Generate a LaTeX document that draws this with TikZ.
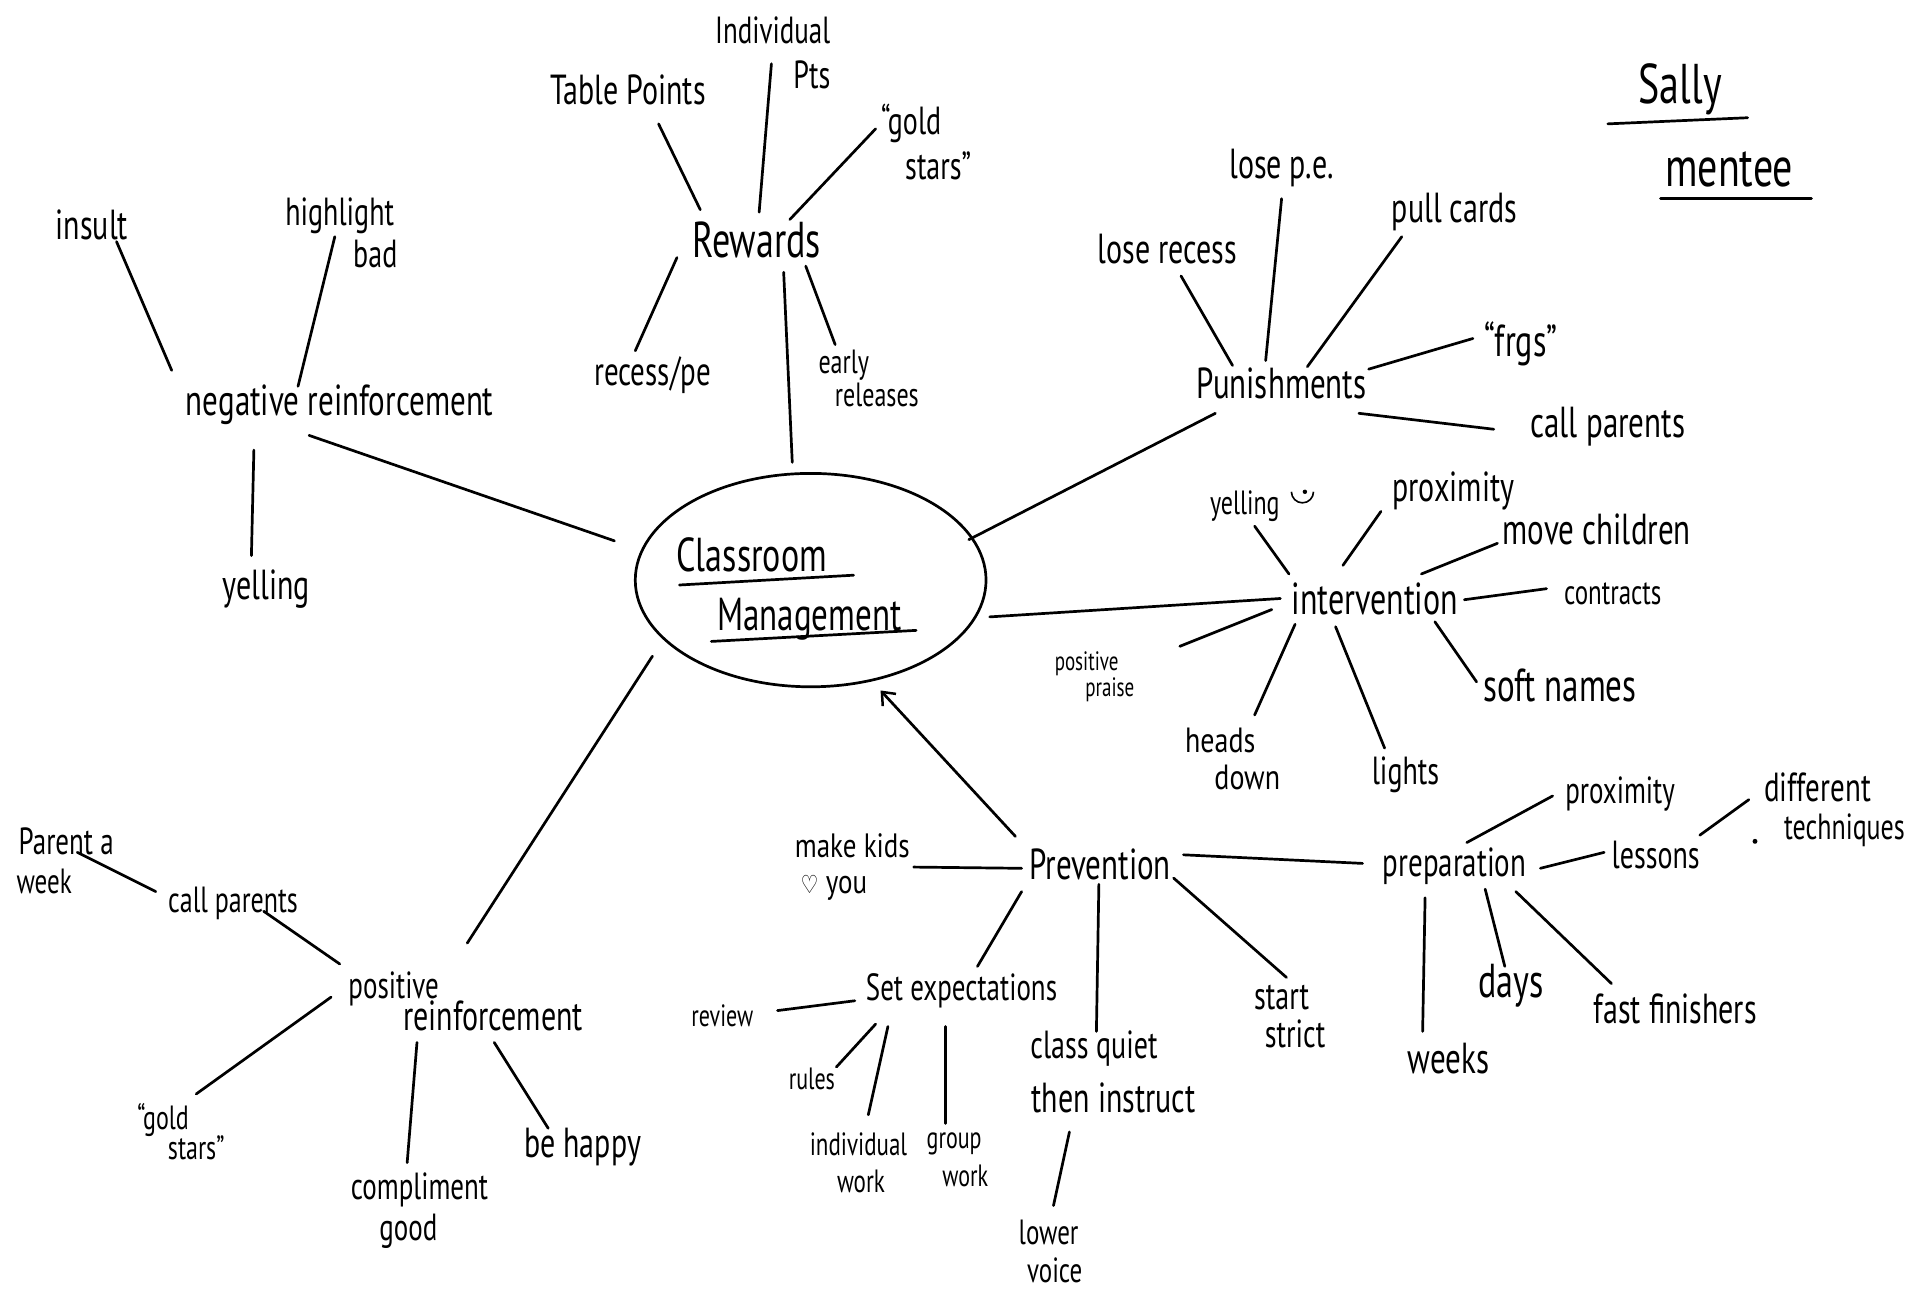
\documentclass[tikz,border=0pt]{standalone}
\usepackage{graphicx}
\usepackage{fontspec}
\setmainfont{PT Sans}
\newfontfamily\djv{DejaVu Sans}
\usetikzlibrary{calc,arrows.meta,shapes.geometric}
\newcommand\hw[2]{{\fontsize{#1}{#1}\selectfont\scalebox{1}[1.4]{#2}}}
\newcommand\hwl[2]{{\fontsize{#1}{#1}\selectfont\scalebox{1}[1.25]{#2}}}
\begin{document}
\begin{tikzpicture}[x=1.2264pt,y=-1.2264pt,
  ln/.style={line width=2.7pt,line cap=round,black},
  tx/.style={inner sep=0pt}]
\fill[white] (0,0) rectangle (1568,1052);
\useasboundingbox (0,0) rectangle (1568,1052);

% centre
\coordinate (cm) at (661,473);
\draw[ln] (cm) ellipse[x radius=143, y radius=87];
\node[tx] (cl1) at (613,452) {\hw{34}{Classroom}};
\node[tx] (cl2) at (660,505) {\hw{33}{Management}};
\draw[ln] ($(cl1)+(-59,25)$) -- ($(cl1)+(83,17)$);
\draw[ln] ($(cl2)+(-80,18)$) -- ($(cl2)+(87,9)$);

% Sally mentee
\node[tx] (sally) at (1370,73) {\hw{40}{Sally}};
\node[tx] (mentee) at (1410,138) {\hw{40}{mentee}};
\draw[ln] ($(sally)+(-59,28)$) -- ($(sally)+(55,23)$);
\draw[ln] ($(mentee)+(-56,24)$) -- ($(mentee)+(67,24)$);

% negative reinforcement
\node[tx] (insult) at (75,183) {\hw{30}{insult}};
\node[tx] (hl1) at (277,176) {\hw{28}{highlight}};
\node[tx] (hl2) at (306,207) {\hw{28}{bad}};
\node[tx] (neg) at (277,330) {\hw{31}{negative reinforcement}};
\node[tx] (yel1) at (217,480) {\hw{30}{yelling}};
\draw[ln] ($(insult)+(20,14)$) -- ($(neg)+(-137,-28)$);
\draw[ln] ($(hl1)+(-4,17)$) -- ($(neg)+(-34,-15)$);
\draw[ln] ($(neg)+(-70,37)$) -- ($(yel1)+(-12,-27)$);
\draw[ln] ($(neg)+(-25,25)$) -- ($(cm)+(-160,-32)$);

% rewards
\node[tx] (tp) at (512,73) {\hw{30}{Table Points}};
\node[tx] (ind1) at (630,25) {\hw{27}{Individual}};
\node[tx] (ind2) at (662,61) {\hw{28}{Pts}};
\node[tx] (gs1) at (743,101) {\hw{28}{“gold}};
\node[tx] (gs2) at (765,135) {\hw{28}{stars”}};
\node[tx] (rew) at (617,196) {\hw{36}{Rewards}};
\node[tx] (rec) at (532,306) {\hw{29}{recess/pe}};
\node[tx] (er1) at (688,298) {\hw{24}{early}};
\node[tx] (er2) at (715,322) {\hw{24}{releases}};
\draw[ln] ($(tp)+(25,28)$) -- ($(rew)+(-46,-25)$);
\draw[ln] ($(ind1)+(-1,27)$) -- ($(rew)+(2,-23)$);
\draw[ln] ($(gs1)+(-29,4)$) -- ($(rew)+(27,-17)$);
\draw[ln] ($(rew)+(-65,14)$) -- ($(rec)+(-14,-20)$);
\draw[ln] ($(rew)+(40,21)$) -- ($(er1)+(-7,-17)$);
\draw[ln] ($(rew)+(22,26)$) -- ($(cm)+(-15,-96)$);

% punishments
\node[tx] (lr) at (952,203) {\hw{30}{lose recess}};
\node[tx] (lpe) at (1045,137) {\hw{30}{lose p.e.}};
\node[tx] (pc) at (1186,173) {\hw{30}{pull cards}};
\node[tx] (frgs) at (1240,280) {\hw{32}{“frgs”}};
\node[tx] (pun) at (1045,313) {\hw{31}{Punishments}};
\node[tx] (cp) at (1311,348) {\hw{31}{call parents}};
\draw[ln] ($(lr)+(11,22)$) -- ($(pun)+(-40,-15)$);
\draw[ln] ($(lpe)+(0,25)$) -- ($(pun)+(-13,-19)$);
\draw[ln] ($(pc)+(-43,20)$) -- ($(pun)+(21,-14)$);
\draw[ln] ($(frgs)+(-39,-4)$) -- ($(pun)+(71,-12)$);
\draw[ln] ($(pun)+(63,24)$) -- ($(cp)+(-93,2)$);
\draw[ln] ($(pun)+(-54,24)$) -- ($(cm)+(129,-33)$);

% intervention
\node[tx] (yel2) at (1015,413) {\hw{24}{yelling}};
\draw[line width=1.6pt] ($(yel2)+(38,-12)$) arc[start angle=180,end angle=0,radius=9];
\fill ($(yel2)+(49,-12)$) circle[radius=1.8];
\node[tx] (prox) at (1185,400) {\hw{30}{proximity}};
\node[tx] (mc) at (1302,432) {\hw{31}{move children}};
\node[tx] (int) at (1121,488) {\hw{32}{intervention}};
\node[tx] (con) at (1315,484) {\hw{25}{contracts}};
\node[tx] (pp1) at (886,541) {\hw{19}{positive}};
\node[tx] (pp2) at (905,562) {\hw{19}{praise}};
\node[tx] (hd1) at (995,604) {\hwl{28}{heads}};
\node[tx] (hd2) at (1017,634) {\hwl{28}{down}};
\node[tx] (li) at (1146,632) {\hw{28}{lights}};
\node[tx] (sn) at (1272,559) {\hw{33}{soft names}};
\draw[ln] ($(yel2)+(8,16)$) -- ($(int)+(-70,-20)$);
\draw[ln] ($(prox)+(-59,17)$) -- ($(int)+(-26,-27)$);
\draw[ln] ($(mc)+(-81,11)$) -- ($(int)+(38,-20)$);
\draw[ln] ($(int)+(73,1)$) -- ($(con)+(-54,-4)$);
\draw[ln] ($(int)+(-77,0)$) -- ($(cm)+(146,30)$);
\draw[ln] ($(int)+(-84,9)$) -- ($(pp1)+(76,-14)$);
\draw[ln] ($(int)+(-65,21)$) -- ($(hd1)+(28,-21)$);
\draw[ln] ($(int)+(-32,23)$) -- ($(li)+(-17,-22)$);
\draw[ln] ($(int)+(49,19)$) -- ($(sn)+(-68,-3)$);

% prevention
\node[tx] (prev) at (897,705) {\hw{31}{Prevention}};
\node[tx] (mk1) at (695,690) {\hwl{27}{make kids}};
\node[tx] (mk2) at (680,724) {\hwl{27}{{\djv\fontsize{20}{20}\selectfont ♡} you}};
\node[tx] (prep) at (1186,706) {\hw{29}{preparation}};
\node[tx] (se) at (784,808) {\hw{27}{Set expectations}};
\node[tx] (cq1) at (892,855) {\hw{28}{class quiet}};
\node[tx] (cq2) at (908,895) {\hw{30}{then instruct}};
\node[tx] (st1) at (1045,813) {\hw{28}{start}};
\node[tx] (st2) at (1056,843) {\hw{28}{strict}};
\node[tx] (lv1) at (855,1005) {\hw{25}{lower}};
\node[tx] (lv2) at (860,1036) {\hw{25}{voice}};
\draw[ln,-{Straight Barb[length=11pt,width=18pt,line width=2.5pt]}] ($(prev)+(-69,-23)$) -- ($(cm)+(57,90)$);
\draw[ln] ($(mk1)+(50,17)$) -- ($(prev)+(-64,3)$);
\draw[ln] ($(prev)+(68,-8)$) -- ($(prep)+(-75,-2)$);
\draw[ln] ($(prev)+(-64,22)$) -- ($(se)+(13,-20)$);
\draw[ln] ($(prev)+(-1,16)$) -- ($(cq1)+(2,-14)$);
\draw[ln] ($(prev)+(60,11)$) -- ($(st1)+(4,-16)$);
\draw[ln] ($(cq2)+(-36,28)$) -- ($(lv1)+(4,-22)$);

% set expectations
\node[tx] (rev) at (589,828) {\hw{22}{review}};
\node[tx] (ru) at (662,880) {\hw{22}{rules}};
\node[tx] (iw1) at (700,933) {\hw{23}{individual}};
\node[tx] (iw2) at (702,963) {\hw{23}{work}};
\node[tx] (gw1) at (778,933) {\hw{22}{group}};
\node[tx] (gw2) at (787,959) {\hw{22}{work}};
\draw[ln] ($(rev)+(45,-4)$) -- ($(se)+(-87,8)$);
\draw[ln] ($(ru)+(20,-10)$) -- ($(se)+(-70,27)$);
\draw[ln] ($(se)+(-60,29)$) -- ($(iw1)+(8,-24)$);
\draw[ln] ($(se)+(-13,29)$) -- ($(gw1)+(-7,-17)$);

% preparation
\node[tx] (px2) at (1321,647) {\hw{27}{proximity}};
\node[tx] (les) at (1350,697) {\hw{28}{lessons}};
\node[tx] (df1) at (1482,642) {\hw{29}{different}};
\node[tx] (df2) at (1504,677) {\hw{26}{techniques}};
\fill (1431,686) circle[radius=2];
\node[tx] (wk) at (1181,863) {\hw{31}{weeks}};
\node[tx] (dy) at (1232,804) {\hw{34}{days}};
\node[tx] (ff) at (1366,823) {\hw{30}{fast finishers}};
\draw[ln] ($(prep)+(10,-19)$) -- ($(px2)+(-55,2)$);
\draw[ln] ($(prep)+(70,2)$) -- ($(les)+(-42,-2)$);
\draw[ln] ($(les)+(36,-16)$) -- ($(df1)+(-56,10)$);
\draw[ln] ($(prep)+(-24,26)$) -- ($(wk)+(-21,-22)$);
\draw[ln] ($(prep)+(25,19)$) -- ($(dy)+(-5,-16)$);
\draw[ln] ($(prep)+(50,21)$) -- ($(ff)+(-52,-21)$);

% positive reinforcement
\node[tx] (pa1) at (54,686) {\hw{27}{Parent a}};
\node[tx] (pa2) at (36,719) {\hw{25}{week}};
\node[tx] (cp2) at (190,737) {\hw{26}{call parents}};
\node[tx] (pos1) at (321,806) {\hw{27}{positive}};
\node[tx] (rf2) at (402,828) {\hw{30}{reinforcement}};
\node[tx] (gs3) at (133,913) {\hw{24}{“gold}};
\node[tx] (gs4) at (160,936) {\hw{24}{stars”}};
\node[tx] (co1) at (342,970) {\hw{27}{compliment}};
\node[tx] (co2) at (333,1004) {\hw{27}{good}};
\node[tx] (bh) at (475,935) {\hw{30}{be happy}};
\draw[ln] ($(pa1)+(9,9)$) -- ($(cp2)+(-63,-10)$);
\draw[ln] ($(cp2)+(25,6)$) -- ($(pos1)+(-44,-20)$);
\draw[ln] ($(pos1)+(-51,7)$) -- ($(gs3)+(27,-21)$);
\draw[ln] ($(rf2)+(-62,22)$) -- ($(co1)+(-10,-22)$);
\draw[ln] ($(rf2)+(1,22)$) -- ($(bh)+(-28,-15)$);
\draw[ln] ($(pos1)+(60,-37)$) -- ($(cm)+(-129,62)$);
\end{tikzpicture}
\end{document}
